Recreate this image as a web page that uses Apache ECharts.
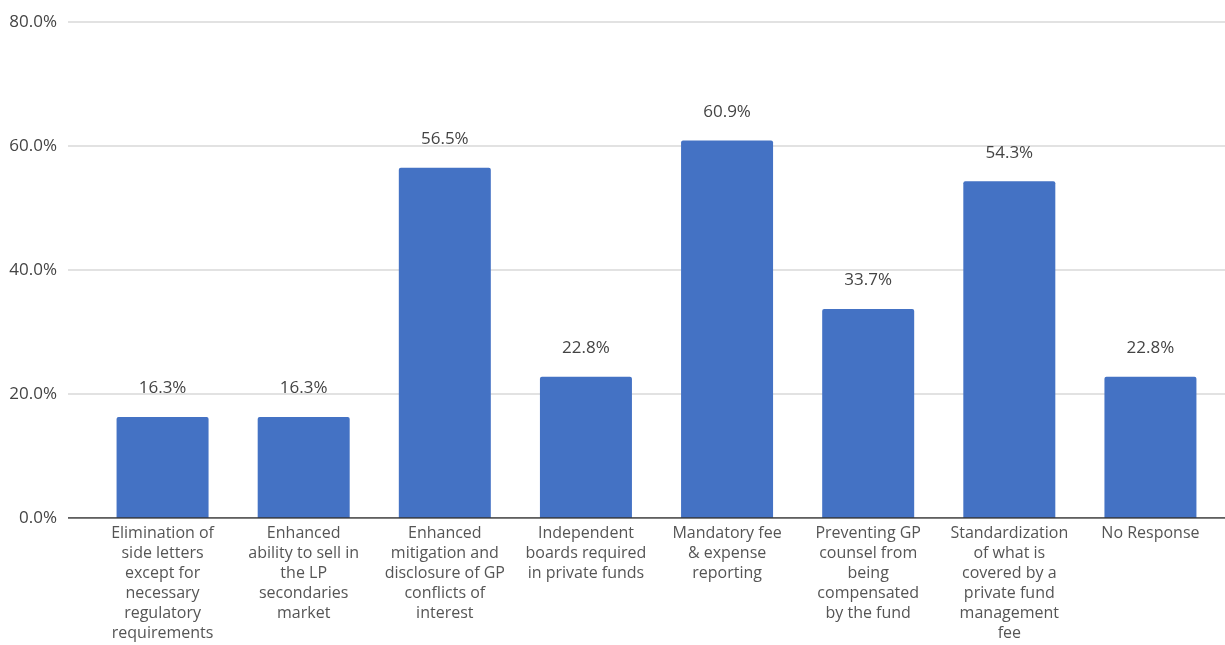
<!DOCTYPE html>
<html><head><meta charset="utf-8">
<script src="https://cdn.jsdelivr.net/npm/echarts@6/dist/echarts.min.js"></script>
<style>html,body{margin:0;padding:0;background:#fff}#c{width:1225px;height:645px}</style>
</head><body><div id="c"></div>
<script>
const categories = [
  "Elimination of\nside letters\nexcept for\nnecessary\nregulatory\nrequirements",
  "Enhanced\nability to sell in\nthe LP\nsecondaries\nmarket",
  "Enhanced\nmitigation and\ndisclosure of GP\nconflicts of\ninterest",
  "Independent\nboards required\nin private funds",
  "Mandatory fee\n& expense\nreporting",
  "Preventing GP\ncounsel from\nbeing\ncompensated\nby the fund",
  "Standardization\nof what is\ncovered by a\nprivate fund\nmanagement\nfee",
  "No Response"
];
const values = [16.3, 16.3, 56.5, 22.8, 60.9, 33.7, 54.3, 22.8];
const yTicks = [0, 20, 40, 60, 80];

const chart = echarts.init(document.getElementById('c'), null, {renderer: 'canvas'});
chart.setOption({
  animation: false,
  backgroundColor: '#fff',
  grid: [
    {left: 68, right: 0, top: 22, bottom: 127, containLabel: false},
    {left: 92, right: 4, top: 22, bottom: 127, containLabel: false}
  ],
  xAxis: [
    {type: 'value', gridIndex: 0, show: false, min: 0, max: 1},
    {type: 'category', gridIndex: 1, data: categories,
     axisLine: {show: false}, axisTick: {show: false},
     axisLabel: {interval: 0, color: '#555', fontFamily: 'Open Sans', fontSize: 16, lineHeight: 20, margin: 5}}
  ],
  yAxis: [
    {type: 'value', gridIndex: 0, min: yTicks[0], max: yTicks[yTicks.length-1], interval: 20,
     axisLine: {show: false}, axisTick: {show: false},
     splitLine: {lineStyle: {color: '#d9d9d9', width: 1.5}},
     axisLabel: {formatter: v => v.toFixed(1) + '%', color: '#444', fontFamily: 'Open Sans', fontSize: 17, margin: 11}},
    {type: 'value', gridIndex: 1, min: 0, max: 80, show: false}
  ],
  series: [
    {type: 'line', xAxisIndex: 0, yAxisIndex: 0, data: [[0,0],[1,0]], symbol: 'none',
     lineStyle: {color: '#333', width: 1.5}, silent: true, z: 5},
    {type: 'bar', xAxisIndex: 1, yAxisIndex: 1, data: values, barWidth: 92,
     itemStyle: {color: '#4472c4', borderRadius: [2,2,0,0]},
     label: {show: true, position: 'top', distance: 20, formatter: p => p.value.toFixed(1) + '%',
             color: '#444', fontFamily: 'Open Sans', fontSize: 17}}
  ]
});
</script></body></html>
